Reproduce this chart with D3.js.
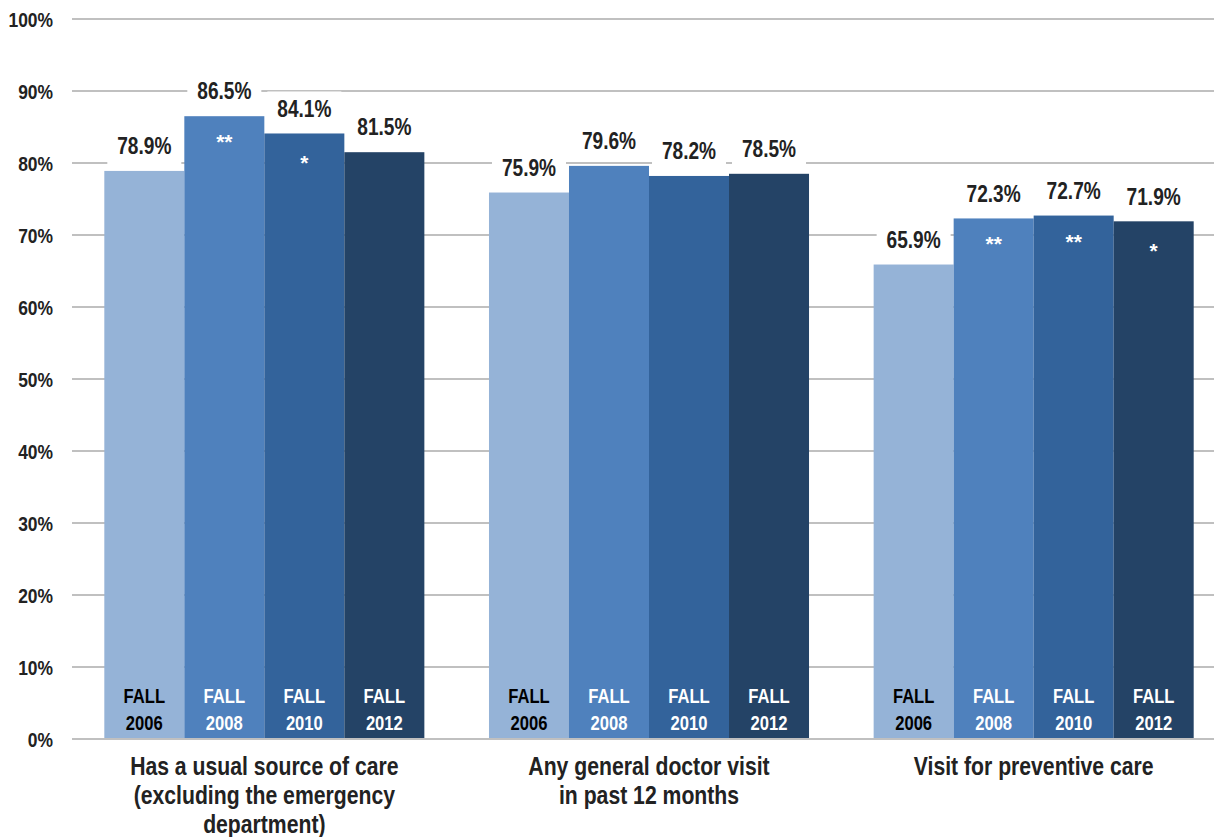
<!DOCTYPE html>
<html><head><meta charset="utf-8">
<script src="https://cdn.jsdelivr.net/npm/d3@7"></script>
<style>body{margin:0;background:#fff}svg{display:block}</style>
</head><body>
<svg id="c" width="1214" height="837"></svg>
<script>
const categories = [
  ["Has a usual source of care", "(excluding the emergency", "department)"],
  ["Any general doctor visit", "in past 12 months"],
  ["Visit for preventive care"]
];
const years = ["2006", "2008", "2010", "2012"];
const values = [
  [78.9, 86.5, 84.1, 81.5],
  [75.9, 79.6, 78.2, 78.5],
  [65.9, 72.3, 72.7, 71.9]
];
const stars = [
  ["", "**", "*", ""],
  ["", "", "", ""],
  ["", "**", "**", "*"]
];
const yTicks = [0, 10, 20, 30, 40, 50, 60, 70, 80, 90, 100];
const colors = ["#95B3D7", "#4F81BD", "#33639B", "#244366"];
const fallText = ["#000000", "#ffffff", "#ffffff", "#ffffff"];

const FONT = "'Liberation Sans',Arial,sans-serif";
const squeeze = (x, s) => `matrix(${s},0,0,1,${x * (1 - s)},0)`;

const svg = d3.select("#c");
const y = d3.scaleLinear().domain([0, 100]).range([739, 19]);
const x0 = d3.scaleBand().domain(d3.range(categories.length)).range([72, 1226]).padding(0);
const bw = x0.bandwidth();
const x1 = d3.scaleBand().domain(years).range([bw * 0.084, bw * 0.916]).padding(0);

// gridlines
svg.append("g").selectAll("line").data(yTicks).join("line")
  .attr("x1", 72).attr("x2", 1214)
  .attr("y1", d => y(d)).attr("y2", d => y(d))
  .attr("stroke", "#c0c0c0").attr("stroke-width", 2);

// y labels
svg.append("g").selectAll("text").data(yTicks).join("text")
  .attr("x", 53).attr("y", d => y(d)).attr("dy", "0.36em")
  .attr("transform", squeeze(53, 0.83))
  .attr("text-anchor", "end").attr("font-family", FONT)
  .attr("font-weight", "bold").attr("font-size", 21).attr("fill", "#222")
  .text(d => d + "%");

const groups = svg.append("g").selectAll("g").data(categories).join("g")
  .attr("transform", (d, i) => `translate(${x0(i)},0)`);

groups.each(function (cat, gi) {
  const g = d3.select(this);
  const data = years.map((yr, j) => ({ yr, j, v: values[gi][j], s: stars[gi][j] }));
  const cx = d => x1(d.yr) + x1.bandwidth() / 2;
  g.selectAll("rect.bar").data(data).join("rect").attr("class", "bar")
    .attr("x", d => x1(d.yr)).attr("width", x1.bandwidth())
    .attr("y", d => y(d.v)).attr("height", d => y(0) - y(d.v))
    .attr("fill", d => colors[d.j]);
  // label background
  g.selectAll("rect.bg").data(data).join("rect").attr("class", "bg")
    .attr("x", d => cx(d) - 37).attr("width", 74)
    .attr("y", d => y(d.v) - 42).attr("height", 36).attr("fill", "#fff");
  g.selectAll("text.val").data(data).join("text").attr("class", "val")
    .attr("x", cx).attr("y", d => y(d.v) - 25)
    .attr("transform", d => squeeze(cx(d), 0.83))
    .attr("dy", "0.36em").attr("text-anchor", "middle")
    .attr("font-family", FONT).attr("font-weight", "bold").attr("font-size", 23)
    .attr("fill", "#222").text(d => d.v.toFixed(1) + "%");
  g.selectAll("text.star").data(data.filter(d => d.s)).join("text").attr("class", "star")
    .attr("x", cx)
    .attr("y", d => y(d.v) + (d.s.length === 2 ? 33 : 37))
    .attr("text-anchor", "middle").attr("font-family", FONT)
    .attr("font-weight", "bold").attr("font-size", 21).attr("fill", "#fff").text(d => d.s);
  const fl = g.selectAll("text.fall").data(data).join("text").attr("class", "fall")
    .attr("transform", d => squeeze(cx(d), 0.83))
    .attr("text-anchor", "middle").attr("font-family", FONT)
    .attr("font-weight", "bold").attr("font-size", 20).attr("fill", d => fallText[d.j]);
  fl.append("tspan").attr("x", cx).attr("y", 703).text("FALL");
  fl.append("tspan").attr("x", cx).attr("y", 730).text(d => d.yr);
  // category label
  const ct = g.append("text").attr("text-anchor", "middle").attr("font-family", FONT)
    .attr("transform", squeeze(bw / 2, 0.815))
    .attr("font-weight", "bold").attr("font-size", 26).attr("fill", "#222");
  ct.selectAll("tspan").data(cat).join("tspan")
    .attr("x", bw / 2).attr("y", (d, i) => 775 + i * 29).text(d => d);
});

// baseline
svg.append("line").attr("x1", 72).attr("x2", 1214).attr("y1", y(0)).attr("y2", y(0))
  .attr("stroke", "#c0c0c0").attr("stroke-width", 2);
</script>
</body></html>
